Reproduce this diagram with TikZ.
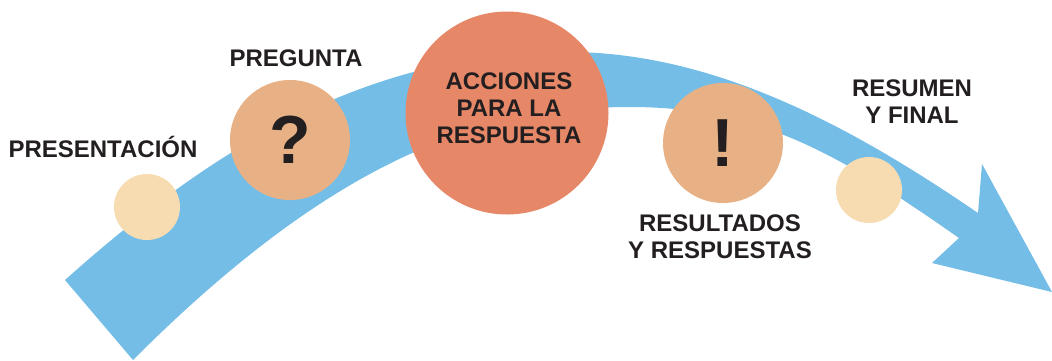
\documentclass[tikz,border=0pt]{standalone}
\usepackage{fontspec}
\setmainfont{Liberation Sans}
\definecolor{bandblue}{RGB}{116,189,230}
\definecolor{smallfill}{RGB}{248,220,177}
\definecolor{midfill}{RGB}{232,177,133}
\definecolor{bigfill}{RGB}{230,136,104}
\definecolor{ink}{RGB}{35,31,32}
\begin{document}
\begin{tikzpicture}[x=1pt,y=-1pt,
  dot/.style={circle,inner sep=0pt,minimum size=#1,text=ink},
  lbl/.style={inner sep=0pt,align=center,text=ink,font=\fontsize{24}{27}\selectfont\bfseries},
  mark glyph/.style={text=ink,inner sep=0pt,font=\fontsize{68}{68}\selectfont\bfseries}]
\useasboundingbox (0,0) rectangle (1052,360);
% band with arrowhead
\coordinate (tl) at (65,280);
\coordinate (tp) at (568,52);
\coordinate (tn) at (978,213);
\coordinate (bn) at (959,238);
\coordinate (bp) at (630,107);
\coordinate (bl) at (133,360);
\fill[bandblue] (tl) .. controls (215,146) and (368,52) .. (tp)
  .. controls (718,52) and (858,131) .. (tn)
  -- (982,164) -- (1052,292) -- (932,263) -- (bn)
  .. controls (839,154) and (760,107) .. (bp)
  .. controls (480,107) and (333,160) .. (bl)
  -- cycle;
% circles
\node[dot=66pt,fill=smallfill] (c1) at (147,207) {};
\node[dot=120pt,fill=midfill] (c2) at (290,140) {};
\node[dot=203pt,fill=bigfill] (c3) at (507,113) {};
\node[dot=120pt,fill=midfill] (c4) at (723,143) {};
\node[dot=66pt,fill=smallfill] (c5) at (869,190) {};
\node[mark glyph] (q) at (c2) {?};
\node[mark glyph] (ex) at (c4) {!};
% labels
\node[lbl,anchor=base] (t1) at (103,157) {PRESENTACIÓN};
\node[lbl,anchor=north] (t2) at (296,50) {PREGUNTA};
\node[lbl,anchor=north] (t3) at (509,73) {ACCIONES\\PARA LA\\RESPUESTA};
\node[lbl,anchor=north] (t4) at (720,215) {RESULTADOS\\Y RESPUESTAS};
\node[lbl,anchor=north] (t5) at (912,80) {RESUMEN\\Y FINAL};
\end{tikzpicture}
\end{document}
